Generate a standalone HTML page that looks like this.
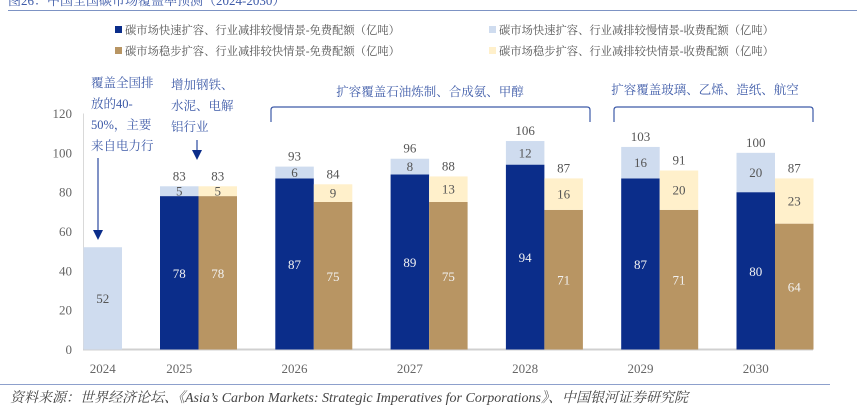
<!DOCTYPE html>
<html><head><meta charset="utf-8">
<style>
html,body{margin:0;padding:0;background:#fff;width:857px;height:414px;overflow:hidden}
svg{display:block;font-family:"Liberation Serif","Noto Serif CJK SC",serif}
</style></head>
<body>
<svg id="chart" width="857" height="414" viewBox="0 0 857 414">
  <text x="8" y="5" font-size="13" fill="#3d5aa8">图26：中国全国碳市场覆盖率预测（2024-2030）</text>
  <line x1="8" y1="10.5" x2="857" y2="10.5" stroke="#7d93c4" stroke-width="1"/>
  <g font-size="11.3" fill="#555">
    <g><rect x="115" y="26" width="7" height="7" fill="#0b2d8a"/><text x="125" y="34">碳市场快速扩容、行业减排较慢情景-免费配额（亿吨）</text></g>
    <g><rect x="489" y="26" width="7" height="7" fill="#cfdcef"/><text x="499" y="34">碳市场快速扩容、行业减排较慢情景-收费配额（亿吨）</text></g>
    <g><rect x="115" y="47" width="7" height="7" fill="#b89563"/><text x="125" y="55">碳市场稳步扩容、行业减排较快情景-免费配额（亿吨）</text></g>
    <g><rect x="489" y="47" width="7" height="7" fill="#fff0cb"/><text x="499" y="55">碳市场稳步扩容、行业减排较快情景-收费配额（亿吨）</text></g>
  </g>
  <g id="axes"></g>
  <g id="bars"></g>
  <g fill="#3d5aa8" font-size="12.5">
    <text x="91" y="87"><tspan x="91">覆盖全国排</tspan><tspan x="91" dy="21">放的40-</tspan><tspan x="91" dy="21">50%，主要</tspan><tspan x="91" dy="21">来自电力行</tspan></text>
    <line x1="98" y1="158" x2="98" y2="232" stroke="#2a4aa0" stroke-width="1.2"/>
    <polygon points="93,230 103,230 98,240" fill="#0b2d8a"/>
    <text x="171" y="89"><tspan x="171">增加钢铁、</tspan><tspan x="171" dy="21">水泥、电解</tspan><tspan x="171" dy="21">铝行业</tspan></text>
    <line x1="197" y1="140" x2="197" y2="152" stroke="#2a4aa0" stroke-width="1.2"/>
    <polygon points="192,150 202,150 197,160" fill="#0b2d8a"/>
    <text x="430" y="96" text-anchor="middle">扩容覆盖石油炼制、合成氨、甲醇</text>
    <path d="M271,122 V110 Q271,107 274,107 H587 Q590,107 590,110 V122" fill="none" stroke="#3d5aa8" stroke-width="1.2"/>
    <text x="705" y="94" text-anchor="middle">扩容覆盖玻璃、乙烯、造纸、航空</text>
    <path d="M614,122 V110 Q614,107 617,107 H810 Q813,107 813,110 V122" fill="none" stroke="#3d5aa8" stroke-width="1.2"/>
  </g>
  <line x1="0" y1="384.5" x2="830" y2="384.5" stroke="#8da0cc" stroke-width="1"/>
  <text x="10" y="402" font-size="14" font-style="italic" fill="#444">资料来源：世界经济论坛、《Asia’s Carbon Markets: Strategic Imperatives for Corporations》、中国银河证券研究院</text>
</svg>
<script>
const years = ["2024","2025","2026","2027","2028","2029","2030"];
const fastFree = [0,78,87,89,94,87,80];
const fastPaid = [52,5,6,8,12,16,20];
const fastTotal = [52,83,93,96,106,103,100];
const steadyFree = [null,78,75,75,71,71,64];
const steadyPaid = [null,5,9,13,16,20,23];
const steadyTotal = [null,83,84,88,87,91,87];
const yTicks = [0,20,40,60,80,100,120];

const NS="http://www.w3.org/2000/svg";
const y0=349.5, yTop=113.5, yMax=120;
const yScale=v=>y0-(v/yMax)*(y0-yTop);
const barW=38.5;
const blueLeft=i=> i===0 ? 83.5 : 160+115.3*(i-1);
function mk(tag,attrs,parent){const e=document.createElementNS(NS,tag);for(const k in attrs)e.setAttribute(k,attrs[k]);parent.appendChild(e);return e;}
const axes=document.getElementById('axes'), bars=document.getElementById('bars');

const ya=mk('line',{x1:83.5,y1:yTop,x2:83.5,y2:y0,stroke:'#d9d9d9','stroke-width':1},axes);


const xa=mk('line',{x1:83,y1:y0,x2:813,y2:y0,stroke:'#d0d0d0','stroke-width':2},axes);


yTicks.forEach(t=>{
  const tx=mk('text',{x:72,y:yScale(t)+4.5,'text-anchor':'end','font-size':13,fill:'#666'},axes);
  tx.textContent=t;
  
  
});
years.forEach((yr,i)=>{
  const tx=mk('text',{x:blueLeft(i)+barW/2,y:373,'text-anchor':'middle','font-size':13,fill:'#666'},axes);
  tx.textContent=yr;
  
  
});

function label(x,y,txt,col,name){
  const t=mk('text',{x:x,y:y,'text-anchor':'middle','font-size':13,fill:col},bars);
  t.textContent=txt;
  
  
}
function stack(x,freeV,paidV,totalV,cFree,cPaid,key,yr){
  const top=freeV+paidV;
  if(freeV>0){
    const r=mk('rect',{x:x,y:yScale(freeV),width:barW,height:y0-yScale(freeV),fill:cFree},bars);
    
    
    label(x+barW/2,(yScale(freeV)+y0)/2+5,freeV,'#f2f2f2','value-'+key+'-free-'+yr);
  }
  const r2=mk('rect',{x:x,y:yScale(top),width:barW,height:yScale(freeV)-yScale(top),fill:cPaid},bars);
  
  
  label(x+barW/2,(yScale(top)+yScale(freeV))/2+4.5,paidV,'#555','value-'+key+'-paid-'+yr);
  if(freeV>0) label(x+barW/2,yScale(top)-6,totalV,'#555','total-'+key+'-'+yr);
}
years.forEach((yr,i)=>{
  const x=blueLeft(i);
  stack(x,fastFree[i],fastPaid[i],fastTotal[i],'#0b2d8a','#cfdcef','fast',yr);
  if(steadyFree[i]!==null) stack(x+barW,steadyFree[i],steadyPaid[i],steadyTotal[i],'#b89563','#fff0cb','steady',yr);
});
</script>
</body></html>
